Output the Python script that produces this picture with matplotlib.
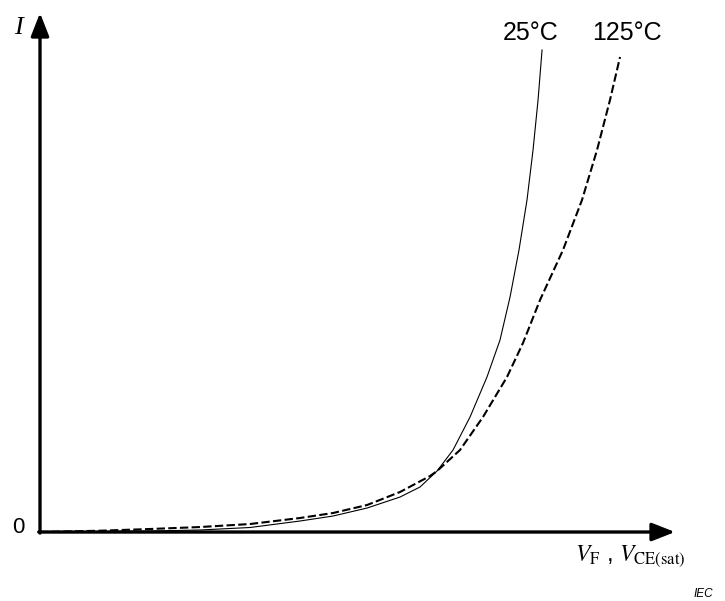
import numpy as np
import matplotlib
matplotlib.use("Agg")
import matplotlib.pyplot as plt

plt.rcParams['font.family'] = ['Liberation Sans', 'DejaVu Sans']
plt.rcParams['mathtext.fontset'] = 'stix'

# curve values (arbitrary units, axis arrow tip = 100)
v_25 = [0, 9.45, 17.32, 25.20, 33.07, 40.94, 46.14, 51.50, 56.69, 59.84, 62.52, 65.04,
        67.72, 70.39, 72.44, 74.02, 75.43, 76.69, 77.64, 78.43, 79.06]
i_25 = [0, 0.10, 0.19, 0.39, 0.87, 2.12, 3.08, 4.62, 6.74, 8.67, 11.75, 15.80,
        22.16, 29.87, 37.00, 45.28, 54.34, 63.97, 73.60, 83.24, 92.87]
v_125 = [0, 9.45, 17.32, 25.20, 33.07, 40.94, 46.14, 51.50, 56.69, 61.42, 62.52, 66.14,
         69.76, 73.54, 76.06, 78.74, 82.36, 85.35, 87.72, 89.76, 91.34]
i_125 = [0, 0.25, 0.58, 0.96, 1.54, 2.70, 3.66, 5.20, 7.71, 10.79, 11.75, 15.80,
         22.16, 29.87, 36.42, 44.70, 54.34, 63.97, 73.60, 83.24, 91.52]
labels = ['25°C', '125°C']

fig = plt.figure(figsize=(7.25, 6.01), dpi=100)
ax = fig.add_axes([0, 0, 1, 1])
ax.set_xlim(-6.30, 107.87)
ax.set_ylim(-13.29, 102.5)
ax.axis('off')

ax.plot(v_25, i_25, color='black', lw=0.8)
ax.plot(v_125, i_125, color='black', lw=1.5, ls=(0, (4, 1.6)))

# axes with arrows
arrow = dict(arrowstyle='-|>,head_length=1.4,head_width=0.55', lw=2.4, color='black',
             shrinkA=0, shrinkB=0, mutation_scale=10)
ax.annotate('', xy=(0, 100), xytext=(0, -0.2), arrowprops=arrow)
ax.annotate('', xy=(100, 0), xytext=(-0.2, 0), arrowprops=arrow)

ax.text(-3.46, 97.1, 'I', fontsize=19, family='Liberation Serif', style='italic', ha='center', va='center')
ax.text(-3.39, 0.87, '0', fontsize=16, ha='center', va='center')
ax.text(77.3, 96.1, labels[0], fontsize=18, ha='center', va='center')
ax.text(92.5, 96.1, labels[1], fontsize=18, ha='center', va='center')
ax.text(92.9, -4.6, r'$V_{\mathrm{F}}$ , $V_{\mathrm{CE(sat)}}$', fontsize=17, ha='center', va='center')
ax.text(104.5, -11.9, 'IEC', fontsize=8.5, style='italic', ha='center', va='center')

fig.savefig('out.png', dpi=100)
